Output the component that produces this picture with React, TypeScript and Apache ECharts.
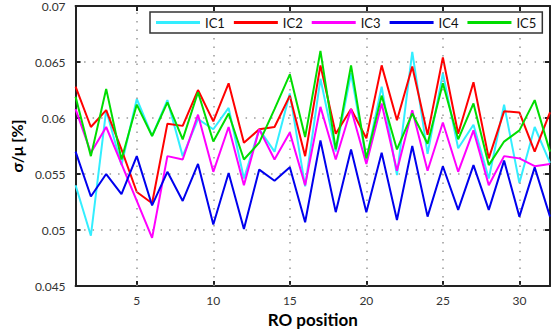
import React, { useEffect, useRef } from "react";
import * as echarts from "echarts";

const positions = Array.from({ length: 32 }, (_, i) => i + 1);
const xTicks = [5, 10, 15, 20, 25, 30];
const seriesNames = ["IC1", "IC2", "IC3", "IC4", "IC5"];
const seriesColors = ["#33eeff", "#ff0000", "#ff00ff", "#0000ee", "#00dd00"];

const ic1 = [0.0540, 0.0495, 0.0607, 0.0558, 0.0617, 0.0584, 0.0616, 0.0566, 0.0599, 0.0590, 0.0609, 0.0546, 0.0590, 0.0570, 0.0622, 0.0539, 0.0635, 0.0570, 0.0640, 0.0563, 0.0628, 0.0549, 0.0659, 0.0568, 0.0640, 0.0573, 0.0594, 0.0546, 0.0612, 0.0542, 0.0592, 0.0560];
const ic2 = [0.0628, 0.0592, 0.0607, 0.0572, 0.0534, 0.0524, 0.0595, 0.0593, 0.0625, 0.0597, 0.0631, 0.0578, 0.0590, 0.0592, 0.0620, 0.0566, 0.0647, 0.0586, 0.0608, 0.0582, 0.0647, 0.0598, 0.0646, 0.0585, 0.0654, 0.0586, 0.0632, 0.0564, 0.0606, 0.0605, 0.0570, 0.0605];
const ic3 = [0.0608, 0.0569, 0.0592, 0.0559, 0.0526, 0.0493, 0.0566, 0.0563, 0.0603, 0.0552, 0.0592, 0.0540, 0.0590, 0.0563, 0.0587, 0.0540, 0.0610, 0.0563, 0.0608, 0.0559, 0.0613, 0.0553, 0.0607, 0.0553, 0.0596, 0.0552, 0.0589, 0.0540, 0.0566, 0.0564, 0.0557, 0.0559];
const ic4 = [0.0570, 0.0530, 0.0550, 0.0532, 0.0566, 0.0522, 0.0552, 0.0526, 0.0559, 0.0505, 0.0551, 0.0501, 0.0554, 0.0544, 0.0556, 0.0507, 0.0580, 0.0516, 0.0572, 0.0516, 0.0569, 0.0509, 0.0575, 0.0512, 0.0557, 0.0518, 0.0558, 0.0518, 0.0562, 0.0512, 0.0556, 0.0512];
const ic5 = [0.0619, 0.0566, 0.0626, 0.0563, 0.0612, 0.0584, 0.0614, 0.0581, 0.0623, 0.0579, 0.0604, 0.0563, 0.0578, 0.0608, 0.0639, 0.0583, 0.0660, 0.0572, 0.0647, 0.0564, 0.0620, 0.0572, 0.0604, 0.0577, 0.0631, 0.0581, 0.0613, 0.0558, 0.0579, 0.0589, 0.0616, 0.0570];

const allValues = [ic1, ic2, ic3, ic4, ic5];

const FONT = "Lato, 'Open Sans', sans-serif";
const AXIS_COLOR = "#222";
const GRID_STYLE = { type: [1.5, 7] as any, color: "#999", width: 1.5 };

export default function App() {
  const ref = useRef<HTMLDivElement>(null);
  useEffect(() => {
    document.body.style.margin = "0";
    if (!ref.current) return;
    const chart = echarts.init(ref.current, undefined, { renderer: "svg" });
    const axisLine = { show: true, onZero: false, lineStyle: { color: AXIS_COLOR, width: 2 } };
    const tick = { show: true, inside: true, length: 5, lineStyle: { color: AXIS_COLOR, width: 2 } };
    const lineSeries = seriesNames.map((name, i) => ({
      name,
      type: "line",
      data: positions.map((p, j) => [p, allValues[i][j]]),
      showSymbol: false,
      symbol: "none",
      lineStyle: { width: 2, color: seriesColors[i] },
      itemStyle: { color: seriesColors[i] },
      z: 3 + i,
    }));
    chart.setOption({
      animation: false,
      grid: { left: 69, right: 10, top: 5, bottom: 46 },
      legend: {
        data: seriesNames,
        left: 150,
        top: 12,
        icon: "rect",
        itemWidth: 44,
        itemHeight: 3,
        itemGap: 9,
        padding: [4, 6],
        borderColor: "#333",
        borderWidth: 1.5,
        backgroundColor: "#fff",
        textStyle: { fontSize: 13, color: "#111", fontFamily: FONT },
        z: 20,
      },
      xAxis: [
        {
          type: "value",
          min: 1,
          max: 32,
          position: "bottom",
          axisLine,
          axisTick: { ...tick, customValues: xTicks },
          axisLabel: { customValues: xTicks, fontSize: 12, color: "#333", fontFamily: FONT, margin: 8 },
          splitLine: { show: false },
          name: "RO position",
          nameLocation: "middle",
          nameGap: 23,
          nameTextStyle: { fontSize: 17, fontWeight: "bold", color: "#000", fontFamily: FONT },
        },
        {
          type: "value",
          min: 1,
          max: 32,
          position: "top",
          axisLine,
          axisTick: { ...tick, customValues: xTicks },
          axisLabel: { show: false },
          splitLine: { show: false },
        },
      ],
      yAxis: [
        {
          type: "value",
          min: 0.045,
          max: 0.07,
          interval: 0.005,
          position: "left",
          axisLine,
          axisTick: tick,
          axisLabel: {
            fontSize: 12,
            color: "#333",
            fontFamily: FONT,
            margin: 10,
            formatter: (v: number) => String(+v.toFixed(3)),
          },
          splitLine: { show: true, lineStyle: GRID_STYLE },
          name: "σ/μ [%]",
          nameLocation: "middle",
          nameGap: 40,
          nameTextStyle: { fontSize: 16, fontWeight: "bold", color: "#000", fontFamily: FONT },
        },
        {
          type: "value",
          min: 0.045,
          max: 0.07,
          interval: 0.005,
          position: "right",
          axisLine,
          axisTick: tick,
          axisLabel: { show: false },
          splitLine: { show: false },
        },
      ],
      series: [
        {
          name: "grid",
          type: "line",
          data: [],
          z: 1,
          silent: true,
          markLine: {
            silent: true,
            symbol: ["none", "none"],
            label: { show: false },
            lineStyle: GRID_STYLE,
            data: xTicks.map((v) => ({ xAxis: v })),
          },
        },
        ...lineSeries,
      ],
    });
    return () => chart.dispose();
  }, []);
  return <div ref={ref} style={{ width: 560, height: 333 }} />;
}
